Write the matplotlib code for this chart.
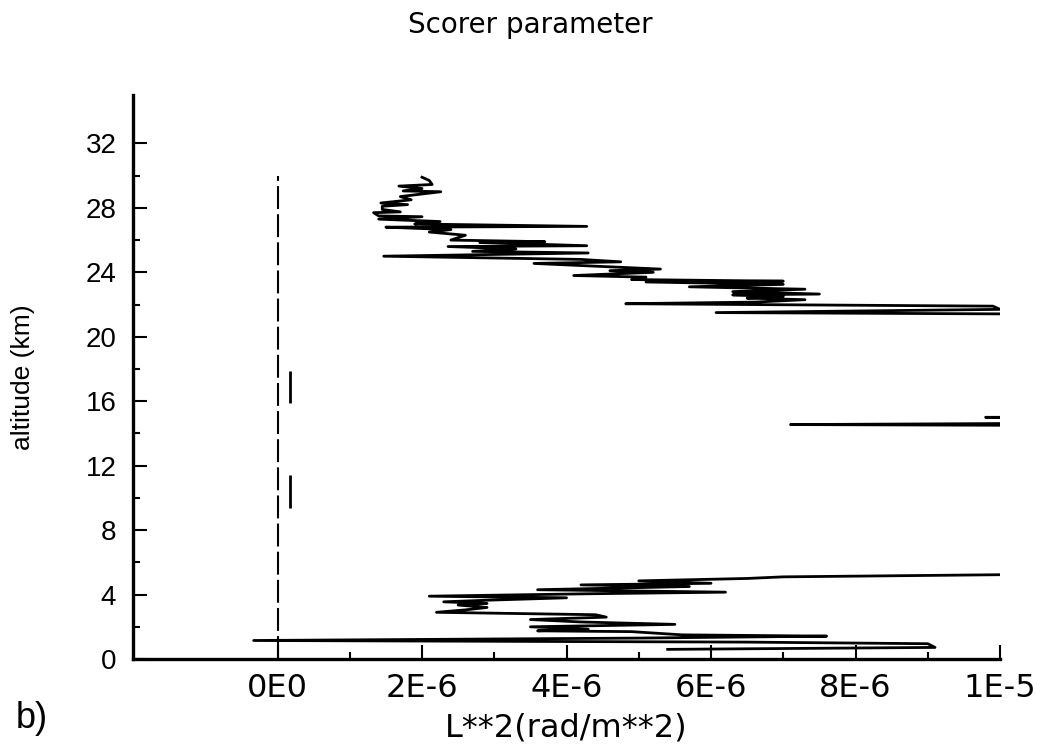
import matplotlib.pyplot as plt
from matplotlib.ticker import FixedLocator
import numpy as np

# Scorer parameter profile, L**2 in units of 1E-6 rad/m**2 vs altitude (km)
# values beyond 1E-5 run off the right edge of the plot
l2 = [5.4, 9.1, 9.0, 6.5, -0.33, 5.0, 7.6, 5.6, 4.9, 3.6, 4.3, 3.5, 5.5, 4.2,
      3.5, 4.55, 4.4, 2.2, 2.6, 2.9, 2.5, 2.9, 2.3, 2.9, 4.0, 2.1, 4.3, 6.2,
      3.6, 5.7, 4.2, 6.0, 5.0, 6.5, 7.0, 10.4,
      14.0, 14.0, 7.1, 14.0, 9.8, 14.0, 14.0,
      11.0, 6.07, 10.0, 9.9, 4.82, 6.6, 7.3, 6.5, 7.0, 6.3, 7.5, 6.3, 7.3,
      5.7, 7.0, 5.1, 7.0, 4.9, 5.1, 4.1, 5.2, 4.6, 5.3, 4.55, 3.55, 4.75,
      4.2, 1.47, 4.3, 2.7, 3.3, 2.36, 4.28, 2.8, 3.7, 2.4, 2.6, 2.1, 2.4,
      1.5, 4.28, 1.9, 2.25, 1.4, 2.0, 1.4, 1.33, 1.7, 1.45, 1.45, 1.8, 1.43,
      1.85, 1.7, 2.26, 1.74, 2.0, 1.68, 2.14, 2.1, 2.0]
alt = [0.6, 0.72, 0.95, 1.05, 1.15, 1.3, 1.42, 1.5, 1.7, 1.75, 1.85, 2.0, 2.15,
       2.3, 2.45, 2.6, 2.75, 2.9, 3.05, 3.2, 3.35, 3.45, 3.55, 3.65, 3.8,
       3.9, 4.05, 4.15, 4.3, 4.5, 4.6, 4.7, 4.85, 5.0, 5.1, 5.25,
       5.4, 14.45, 14.55, 14.7, 15.0, 15.05, 21.3,
       21.4, 21.5, 21.7, 21.9, 22.05, 22.15, 22.3, 22.4, 22.5, 22.6, 22.65,
       22.8, 22.95, 23.1, 23.25, 23.4, 23.45, 23.55, 23.7, 23.8, 24.0, 24.1,
       24.2, 24.35, 24.55, 24.65, 24.8, 25.0, 25.2, 25.3, 25.45, 25.6, 25.65,
       25.85, 25.9, 26.0, 26.3, 26.5, 26.65, 26.8, 26.85, 27.0, 27.15, 27.3,
       27.45, 27.5, 27.7, 27.75, 27.9, 28.1, 28.2, 28.3, 28.5, 28.7, 29.0,
       29.05, 29.2, 29.35, 29.45, 29.7, 29.9]

# short marks near zero
mark_x = [0.17, 0.17]
mark_lo = [9.4, 15.9]
mark_hi = [11.4, 17.9]

# zero reference line
zero_top = 30

xticks = [0, 2, 4, 6, 8, 10]
xminor = [1, 3, 5, 7, 9]
xtick_labels = ["0E0", "2E-6", "4E-6", "6E-6", "8E-6", "1E-5"]
yticks = [0, 4, 8, 12, 16, 20, 24, 28, 32]
yminor = [2, 6, 10, 14, 18, 22, 26, 30]

fig = plt.figure(figsize=(10.44, 7.45), dpi=100)
ax = fig.add_axes([0.1274, 0.1154, 0.8305, 0.757])

ax.plot(np.array(l2) * 1e-6, alt, color='black', lw=2.0)
ax.vlines(np.array(mark_x) * 1e-6, mark_lo, mark_hi, color='black', lw=2.0)
ax.plot([0, 0], [0, zero_top], color='black', lw=1.5, dashes=(11, 2.5))

ax.set_xlim(-2e-6, 1e-5)
ax.set_ylim(0, 35)

ax.set_xticks(np.array(xticks) * 1e-6)
ax.set_xticklabels(xtick_labels)
ax.xaxis.set_minor_locator(FixedLocator(np.array(xminor) * 1e-6))
ax.set_yticks(yticks)
ax.yaxis.set_minor_locator(FixedLocator(yminor))

for s in ['top', 'right']:
    ax.spines[s].set_visible(False)
for s in ['left', 'bottom']:
    ax.spines[s].set_linewidth(2.4)

ax.tick_params(axis='both', which='major', direction='in', length=10, width=1.5)
ax.tick_params(axis='both', which='minor', direction='in', length=5, width=1.5)
ax.tick_params(axis='x', which='major', labelsize=23, pad=10)
ax.tick_params(axis='y', which='major', labelsize=20, pad=12)
for lab in ax.get_yticklabels():
    lab.set_family('Liberation Sans')

ax.set_ylabel("altitude (km)", fontsize=19, family='Liberation Sans')
ax.yaxis.set_label_coords(-0.113, 0.5)
ax.set_xlabel("L**2(rad/m**2)", fontsize=23, labelpad=6)

fig.text(0.508, 0.966, "Scorer parameter", ha='center', va='center', fontsize=20)
fig.text(0.015, 0.036, "b)", ha='left', va='center', fontsize=26,
         family='Liberation Sans')

fig.savefig("out.png", dpi=100)
